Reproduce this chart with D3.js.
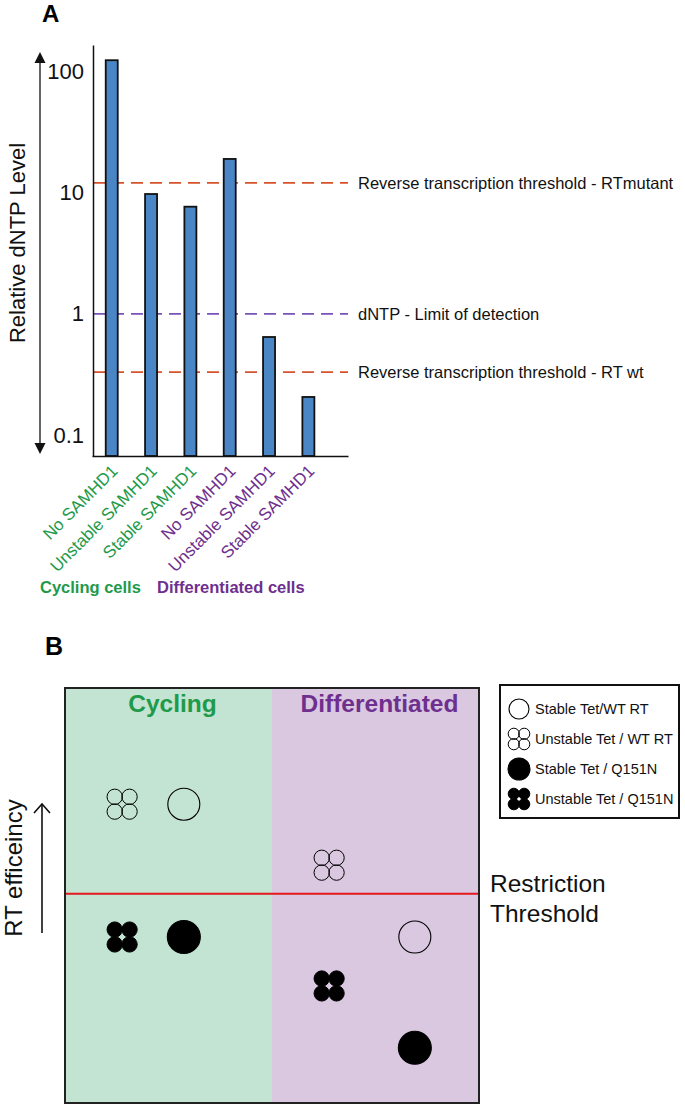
<!DOCTYPE html>
<html><head><meta charset="utf-8">
<script src="https://cdn.jsdelivr.net/npm/d3@7"></script>
<style>
body{margin:0;background:#fff}
svg{display:block}
text{font-family:"Liberation Sans",Arial,Helvetica,sans-serif}
</style>
</head><body><svg id="c" width="685" height="1106"></svg>
<script>
// ---------- Panel A data ----------
const categories = ["No SAMHD1","Unstable SAMHD1","Stable SAMHD1","No SAMHD1","Unstable SAMHD1","Stable SAMHD1"];
const cellGroupOfBar = [0,0,0,1,1,1];
const dntpLevels = [125, 9.8, 7.7, 19.1, 0.645, 0.206];
const yTickValues = [0.1, 1, 10, 100];
const yTickLabels = ["0.1","1","10","100"];
const thresholdNames = ["Reverse transcription threshold - RTmutant","dNTP - Limit of detection","Reverse transcription threshold - RT wt"];
const thresholdValues = [12.1, 1, 0.33];
const thresholdKind = [0,1,0];
const groupNames = ["Cycling cells","Differentiated cells"];

// ---------- Panel B data ----------
const bConditions = ["Cycling","Differentiated"];
const bConditionStart = [0, 50];
const bConditionEnd = [50, 100];
const constructs = ["Stable Tet/WT RT","Unstable Tet / WT RT","Stable Tet / Q151N","Unstable Tet / Q151N"];
const constructQuad = [false,true,false,true];
const constructFilled = [false,false,true,true];
const cyclingPos = [28.7, 13.8, 28.7, 13.8];
const cyclingEff = [72, 72, 40, 40];
const diffPos = [84.5, 63.8, 84.5, 63.8];
const diffEff = [40, 57.3, 13.3, 28.2];
const restrictionThreshold = 50.4;

// ---------- styles ----------
const GREEN = "#1f9a4a", PURPLE = "#6e2f8e";
const groupColors = [GREEN, PURPLE];
const threshColors = ["#d6522b", "#7a52b8"];
const regionFills = ["#c3e4d2", "#dac7e0"];

const svg = d3.select("#c");

// ================= Panel A =================
svg.append("text").attr("x",42).attr("y",22).attr("font-size",24).attr("font-weight","bold").text("A");

const y = d3.scaleLog().domain([0.067,167]).range([456,45]);
const x = d3.scaleBand().domain(d3.range(categories.length)).range([92,348])
  .paddingInner(0.695).paddingOuter(0.602).align(0.29);

// threshold dashed lines
const th = svg.append("g");
th.selectAll("line").data(thresholdValues).join("line")
  .attr("x1",93).attr("x2",348)
  .attr("y1",d=>y(d)).attr("y2",d=>y(d))
  .attr("stroke",(d,i)=>threshColors[thresholdKind[i]])
  .attr("stroke-width",1.7).attr("stroke-dasharray","12,7");
th.selectAll("text").data(thresholdValues).join("text")
  .attr("x",358).attr("y",d=>y(d)).attr("dy","0.35em")
  .attr("font-size",16.5).attr("fill","#111")
  .text((d,i)=>thresholdNames[i]);

// bars
svg.append("g").selectAll("rect").data(dntpLevels).join("rect")
  .attr("x",(d,i)=>x(i)).attr("width",x.bandwidth())
  .attr("y",d=>y(d)).attr("height",d=>y.range()[0]-y(d))
  .attr("fill","#4a86c6").attr("stroke","#111").attr("stroke-width",1.8);

// left axis
const ax = svg.append("g").attr("transform","translate(93,0)")
  .call(d3.axisLeft(y).tickValues(yTickValues).tickFormat((d,i)=>yTickLabels[i]).tickSize(0).tickPadding(9));
ax.select(".domain").attr("stroke","#111").attr("stroke-width",1.5);
ax.selectAll("text").attr("font-size",22).attr("fill","#111").attr("font-family","Liberation Sans, Arial, sans-serif");

// bottom axis
const bx = svg.append("g").attr("transform","translate(0,456)")
  .call(d3.axisBottom(x).tickSize(0).tickFormat(""));
bx.select(".domain").attr("stroke","#111").attr("stroke-width",1.5);
bx.selectAll(".tick").remove();

// category labels
svg.append("g").selectAll("text").data(categories).join("text")
  .attr("transform",(d,i)=>`translate(${x(i)+x.bandwidth()/2+7},472) rotate(-45)`)
  .attr("text-anchor","end").attr("font-size",17).attr("fill",(d,i)=>groupColors[cellGroupOfBar[i]])
  .text(d=>d);

// group labels
svg.append("text").attr("x",40).attr("y",593).attr("font-size",16.5).attr("font-weight","bold").attr("fill",GREEN).text(groupNames[0]);
svg.append("text").attr("x",157).attr("y",593).attr("font-size",16.5).attr("font-weight","bold").attr("fill",PURPLE).text(groupNames[1]);

// y title
svg.append("text").attr("transform","translate(25,243) rotate(-90)").attr("text-anchor","middle")
  .attr("font-size",22).attr("fill","#111").text("Relative dNTP Level");

// double arrow
svg.append("line").attr("x1",40).attr("x2",40).attr("y1",60).attr("y2",445).attr("stroke","#111").attr("stroke-width",1.3);
svg.append("path").attr("d","M40,52 L34.5,63 L45.5,63 Z").attr("fill","#111");
svg.append("path").attr("d","M40,454 L34.5,443 L45.5,443 Z").attr("fill","#111");

// ================= Panel B =================
svg.append("text").attr("x",45).attr("y",655).attr("font-size",25).attr("font-weight","bold").text("B");

const xB = d3.scaleLinear().domain([0,100]).range([65,479]);
const yB = d3.scaleLinear().domain([0,100]).range([1103,688]);

// condition regions
svg.append("g").selectAll("rect").data(bConditions).join("rect")
  .attr("x",(d,i)=>xB(bConditionStart[i])).attr("width",(d,i)=>xB(bConditionEnd[i])-xB(bConditionStart[i]))
  .attr("y",yB(100)).attr("height",yB(0)-yB(100))
  .attr("fill",(d,i)=>regionFills[i]);
svg.append("g").selectAll("text").data(bConditions).join("text")
  .attr("x",(d,i)=>(xB(bConditionStart[i])+xB(bConditionEnd[i]))/2+4)
  .attr("y",712).attr("text-anchor","middle").attr("font-size",24.5).attr("font-weight","bold")
  .attr("fill",(d,i)=>groupColors[i]).text(d=>d);

// restriction threshold
svg.append("line").attr("x1",xB(0)).attr("x2",xB(100))
  .attr("y1",yB(restrictionThreshold)).attr("y2",yB(restrictionThreshold))
  .attr("stroke","#e5181e").attr("stroke-width",2);

// border
svg.append("rect").attr("x",xB(0)).attr("y",yB(100)).attr("width",xB(100)-xB(0)).attr("height",yB(0)-yB(100))
  .attr("fill","none").attr("stroke","#222").attr("stroke-width",2);

function drawGlyph(g, quad, filled, r, off){
  if(!quad){
    g.append("circle").attr("r",r).attr("fill",filled?"#000":"none").attr("stroke","#000").attr("stroke-width",1.1);
  } else {
    [[-1,-1],[1,-1],[-1,1],[1,1]].forEach(([a,b])=>{
      g.append("circle").attr("cx",a*off).attr("cy",b*off).attr("r",r)
        .attr("fill",filled?"#000":"none").attr("stroke","#000").attr("stroke-width",1);
    });
  }
}

const markerData = [];
constructs.forEach((c,i)=>{
  markerData.push({i, pos:cyclingPos[i], eff:cyclingEff[i]});
  markerData.push({i, pos:diffPos[i], eff:diffEff[i]});
});
markerData.forEach(m=>{
  const g = svg.append("g").attr("transform",`translate(${xB(m.pos)},${yB(m.eff)})`);
  if(constructQuad[m.i]) drawGlyph(g,true,constructFilled[m.i],7.7,7.4);
  else drawGlyph(g,false,constructFilled[m.i],constructFilled[m.i]?16.5:16,0);
});

// Restriction Threshold label
svg.append("text").attr("x",490).attr("y",892).attr("font-size",24.5).attr("fill","#111").text("Restriction");
svg.append("text").attr("x",490).attr("y",922).attr("font-size",24.5).attr("fill","#111").text("Threshold");

// y label + arrow
svg.append("text").attr("transform","translate(22,868) rotate(-90)").attr("text-anchor","middle")
  .attr("font-size",24).attr("fill","#111").text("RT efficeincy");
svg.append("line").attr("x1",42).attr("x2",42).attr("y1",804).attr("y2",933).attr("stroke","#111").attr("stroke-width",1.6);
svg.append("path").attr("d","M34,813 L42,804 L50,813").attr("fill","none").attr("stroke","#111").attr("stroke-width",1.6);

// legend
svg.append("rect").attr("x",500).attr("y",685).attr("width",179).attr("height",133)
  .attr("fill","#fff").attr("stroke","#111").attr("stroke-width",2);
const ly = d3.scalePoint().domain(constructs).range([709,799]);
constructs.forEach((c,i)=>{
  const g = svg.append("g").attr("transform",`translate(519,${ly(c)})`);
  if(constructQuad[i]) drawGlyph(g,true,constructFilled[i],5.6,5.2);
  else drawGlyph(g,false,constructFilled[i],constructFilled[i]?11:10,0);
  svg.append("text").attr("x",535).attr("y",ly(c)).attr("dy","0.35em")
    .attr("font-size",14.5).attr("fill","#111").text(c);
});
</script>
</body></html>
